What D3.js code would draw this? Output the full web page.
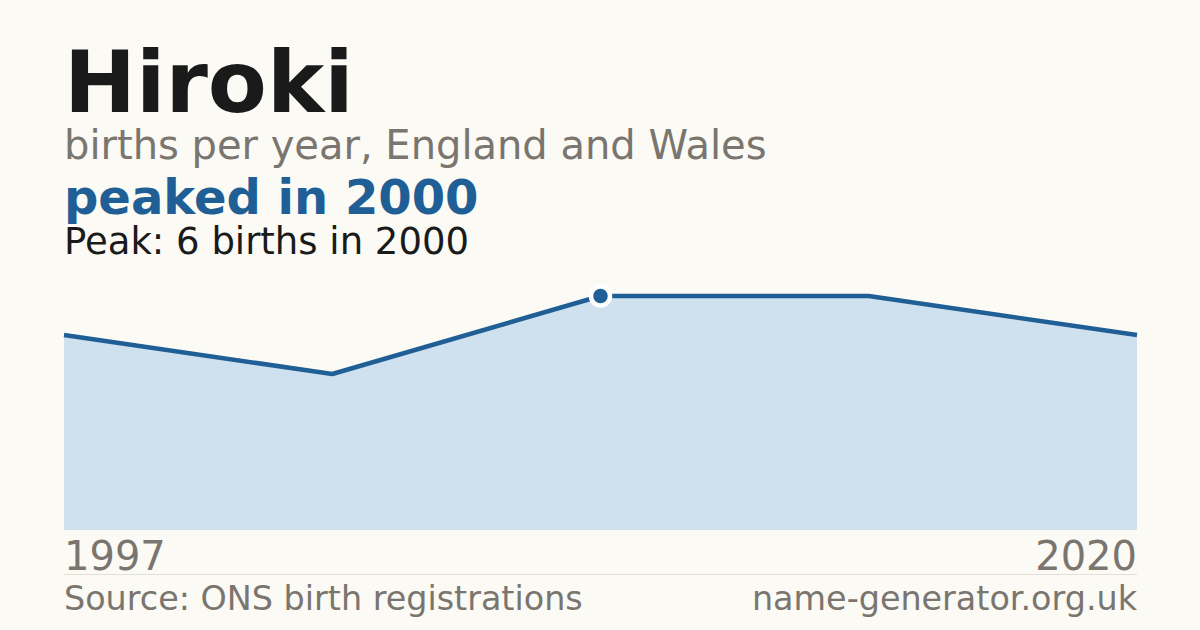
<!DOCTYPE html>
<html>
<head>
<meta charset="utf-8">
<script src="https://cdn.jsdelivr.net/npm/d3@7"></script>
<style>
  html, body { margin: 0; padding: 0; background: #fbfaf5; }
  svg { display: block; font-family: "DejaVu Sans", sans-serif; }
</style>
</head>
<body>
<div class="canvas"></div>
<script>
// Data
const years = [1997, 1998, 2000, 2005, 2020];
const births = [5, 4, 6, 6, 5];
const tickLabels = ['1997', '2020'];
const peakYear = 2000;
const peakValue = 6;

const dims = {
    width: 1200,
    height: 630,
    left: 64,
    right: 1137,
    top: 296,
    bottom: 530,
};

const svg = d3.select('.canvas')
    .append('svg')
    .attr('width', dims.width)
    .attr('height', dims.height);

svg.append('rect')
    .attr('width', dims.width)
    .attr('height', dims.height)
    .attr('fill', '#fbfaf5');

// Headings
svg.append('text')
    .attr('x', 64).attr('y', 112)
    .attr('font-size', 86).attr('font-weight', 'bold')
    .attr('fill', '#1a1a1a')
    .text('Hiroki');

svg.append('text')
    .attr('x', 64).attr('y', 159)
    .attr('font-size', 40)
    .attr('fill', '#7a756e')
    .text('births per year, England and Wales');

svg.append('text')
    .attr('x', 64).attr('y', 214)
    .attr('font-size', 48).attr('font-weight', 'bold')
    .attr('fill', '#1f5f96')
    .text(`peaked in ${peakYear}`);

svg.append('text')
    .attr('x', 64).attr('y', 254)
    .attr('font-size', 37)
    .attr('fill', '#1a1a1a')
    .text(`Peak: ${peakValue} births in ${peakYear}`);

// Scales
const x = d3.scalePoint()
    .domain(years)
    .range([dims.left, dims.right]);

const y = d3.scaleLinear()
    .domain([0, d3.max(births)])
    .range([dims.bottom, dims.top]);

const data = years.map((yr, i) => ({ year: yr, value: births[i] }));

const area = d3.area()
    .x(d => x(d.year))
    .y0(y(0))
    .y1(d => y(d.value));

const line = d3.line()
    .x(d => x(d.year))
    .y(d => y(d.value));

svg.append('path')
    .datum(data)
    .attr('fill', '#cfe0ef')
    .attr('d', area);

svg.append('path')
    .datum(data)
    .attr('fill', 'none')
    .attr('stroke', '#1f5f96')
    .attr('stroke-width', 4.5)
    .attr('stroke-linejoin', 'round')
    .attr('d', line);

// Peak marker
const peak = data.find(d => d.year === peakYear);
svg.append('circle')
    .attr('cx', x(peak.year))
    .attr('cy', y(peak.value))
    .attr('r', 9.5)
    .attr('fill', '#1f5f96')
    .attr('stroke', '#ffffff')
    .attr('stroke-width', 4.5);

// Axis labels
svg.append('text')
    .attr('x', x(+tickLabels[0])).attr('y', 570)
    .attr('font-size', 40)
    .attr('fill', '#7a756e')
    .text(tickLabels[0]);

svg.append('text')
    .attr('x', x(+tickLabels[1])).attr('y', 570)
    .attr('text-anchor', 'end')
    .attr('font-size', 40)
    .attr('fill', '#7a756e')
    .text(tickLabels[1]);

svg.append('line')
    .attr('x1', dims.left).attr('x2', dims.right)
    .attr('y1', 574.5).attr('y2', 574.5)
    .attr('stroke', '#e2dfd6')
    .attr('stroke-width', 1);

// Footer
svg.append('text')
    .attr('x', 64).attr('y', 610)
    .attr('font-size', 33.4)
    .attr('fill', '#7a756e')
    .text('Source: ONS birth registrations');

svg.append('text')
    .attr('x', dims.right).attr('y', 610)
    .attr('text-anchor', 'end')
    .attr('font-size', 33.4)
    .attr('fill', '#7a756e')
    .text('name-generator.org.uk');
</script>
</body>
</html>
